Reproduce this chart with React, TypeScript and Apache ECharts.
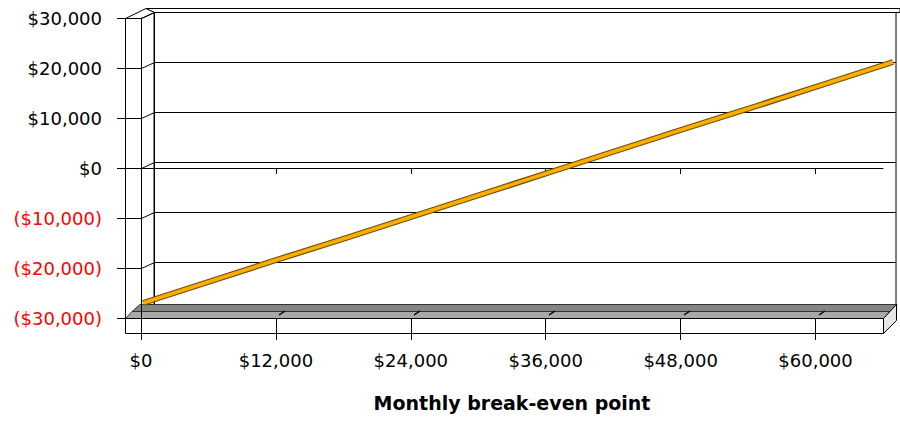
import React, { useEffect, useRef } from "react";
import * as echarts from "echarts";

// Data
const xTickValues = [0, 12000, 24000, 36000, 48000, 60000];
const yTickValues = [-30000, -20000, -10000, 0, 10000, 20000, 30000];
const salesLevels = [0, 6000, 12000, 18000, 24000, 30000, 36000, 42000, 48000, 54000, 60000, 66000];
const profitValues = [-27600, -23200, -18800, -14500, -10100, -5700, -1300, 3100, 7500, 11800, 16200, 20600];
const xMin = 0;
const xMax = 66000;
const yMin = -30000;
const yMax = 30000;
const yStep = 10000;
const axisTitle = "Monthly break-even point";

const FONT = "DejaVu Sans";

const fmtMoney = (v: number) => {
  const s = "$" + Math.abs(v).toLocaleString("en-US");
  return v < 0 ? "(" + s + ")" : s;
};

export default function App() {
  const ref = useRef<HTMLDivElement>(null);

  useEffect(() => {
    if (!ref.current) return;
    const chart = echarts.init(ref.current, null, { renderer: "svg" });
    const seriesData = salesLevels.map((x, i) => [x, profitValues[i]]);

    const option: any = {
      animation: false,
      backgroundColor: "#ffffff",
      grid: [
        // front plane
        { left: 141, right: 17, top: 18, bottom: 103, show: false },
        // back wall
        {
          left: 154,
          right: 4,
          top: 12,
          bottom: 109,
          show: true,
          backgroundColor: "#ffffff",
          borderColor: "#000000",
          borderWidth: 1,
        },
        // depth at which the series ribbon is drawn
        { left: 143, right: 7, top: 15, bottom: 106, show: false },
      ],
      xAxis: [
        {
          gridIndex: 0,
          type: "value",
          min: xMin,
          max: xMax,
          position: "bottom",
          z: 4,
          axisLine: { show: true, onZero: false, lineStyle: { color: "#000", width: 1 } },
          axisTick: { show: true, length: 22, customValues: xTickValues, lineStyle: { color: "#000", width: 1 } },
          axisLabel: {
            customValues: xTickValues,
            formatter: (v: number) => fmtMoney(v),
            margin: 33,
            fontFamily: FONT,
            fontSize: 18,
            color: "#000",
          },
          splitLine: { show: false },
          name: axisTitle,
          nameLocation: "middle",
          nameGap: 75,
          nameTextStyle: { fontFamily: FONT, fontSize: 19, fontWeight: "bold", color: "#000" },
        },
        {
          gridIndex: 0,
          type: "value",
          min: xMin,
          max: xMax,
          position: "top",
          z: 4,
          axisLine: { show: true, onZero: true, onZeroAxisIndex: 0, lineStyle: { color: "#000", width: 1 } },
          axisTick: { show: true, inside: true, length: 6, customValues: xTickValues, lineStyle: { color: "#000", width: 1 } },
          axisLabel: { show: false },
          splitLine: { show: false },
        },
        { gridIndex: 1, type: "value", min: xMin, max: xMax, show: false },
        { gridIndex: 2, type: "value", min: xMin, max: xMax, show: false },
      ],
      yAxis: [
        {
          gridIndex: 0,
          type: "value",
          min: yMin,
          max: yMax,
          interval: yStep,
          position: "left",
          z: 4,
          axisLine: { show: true, onZero: false, lineStyle: { color: "#000", width: 1 } },
          axisTick: { show: true, length: 24, lineStyle: { color: "#000", width: 1 } },
          axisLabel: {
            margin: 39,
            formatter: (v: number) => fmtMoney(v),
            color: (v: any) => (Number(v) < 0 ? "#ff0000" : "#000000"),
            fontFamily: FONT,
            fontSize: 18,
          },
          splitLine: { show: false },
        },
        {
          gridIndex: 1,
          type: "value",
          min: yMin,
          max: yMax,
          interval: yStep,
          axisLine: { show: true, onZero: false, lineStyle: { color: "#000", width: 1 } },
          axisTick: { show: false },
          axisLabel: { show: false },
          splitLine: { show: true, lineStyle: { color: "#000", width: 1, type: "solid" } },
        },
        { gridIndex: 2, type: "value", min: yMin, max: yMax, interval: yStep, show: false },
      ],
      series: [
        {
          type: "line",
          xAxisIndex: 3,
          yAxisIndex: 2,
          data: seriesData,
          showSymbol: false,
          symbol: "none",
          z: 6,
          lineStyle: { color: "#6e5200", width: 6 },
          silent: true,
        },
        {
          type: "line",
          xAxisIndex: 3,
          yAxisIndex: 2,
          data: seriesData,
          showSymbol: false,
          symbol: "none",
          z: 7,
          lineStyle: { color: "#ffad00", width: 3.5 },
          silent: true,
        },
      ],
    };

    chart.setOption(option);

    const black = { stroke: "#000", lineWidth: 1 };
    const graphics: any[] = [
      {
        type: "polygon",
        z: 1,
        shape: { points: [[146, 8.5], [900, 8.5], [900, 12.5], [154, 12.5]] },
        style: { fill: "#ffffff", ...black },
      },
      {
        type: "polygon",
        z: 1,
        shape: { points: [[125.5, 18.5], [141.5, 18.5], [154.5, 12.5], [146, 8.5]] },
        style: { fill: "#ffffff", ...black },
      },
      {
        type: "rect",
        z: 1,
        shape: { x: 125.5, y: 18.5, width: 16, height: 300 },
        style: { fill: "#ffffff", ...black },
      },
      {
        type: "polygon",
        z: 2,
        shape: { points: [[132, 311.5], [890, 311.5], [897, 304.5], [140, 304.5]] },
        style: { fill: "#858585", stroke: "#333", lineWidth: 1 },
      },
      {
        type: "polygon",
        z: 2,
        shape: { points: [[125.5, 318.5], [884, 318.5], [890, 311.5], [132, 311.5]] },
        style: { fill: "#a8a8a8", stroke: "#333", lineWidth: 1 },
      },
      {
        type: "rect",
        z: 2,
        shape: { x: 125.5, y: 318.5, width: 758, height: 15 },
        style: { fill: "#ffffff", ...black },
      },
      {
        type: "polygon",
        z: 2,
        shape: { points: [[883.5, 318.5], [896.5, 304.5], [896.5, 320.5], [883.5, 333.5]] },
        style: { fill: "#e6e6e6", ...black },
      },
    ];

    yTickValues.forEach((v) => {
      if (v === yMin) return;
      const f = chart.convertToPixel({ xAxisIndex: 0, yAxisIndex: 0 }, [xMin, v]) as number[];
      const b = chart.convertToPixel({ xAxisIndex: 2, yAxisIndex: 1 }, [xMin, v]) as number[];
      graphics.push({
        type: "line",
        z: 3,
        shape: { x1: Math.round(f[0]) + 0.5, y1: Math.round(f[1]) + 0.5, x2: Math.round(b[0]) + 0.5, y2: Math.round(b[1]) + 0.5 },
        style: { ...black },
      });
    });

    xTickValues.forEach((v) => {
      if (v === xMin) return;
      const f = chart.convertToPixel({ xAxisIndex: 0, yAxisIndex: 0 }, [v, yMin]) as number[];
      const x = Math.round(f[0]);
      graphics.push({
        type: "line",
        z: 3,
        shape: { x1: x + 3, y1: 315, x2: x + 9, y2: 311 },
        style: { stroke: "#000", lineWidth: 1.5 },
      });
    });

    chart.setOption({ graphic: graphics });

    return () => chart.dispose();
  }, []);

  return (
    <div
      ref={ref}
      style={{ position: "absolute", left: 0, top: 0, width: 900, height: 421 }}
    />
  );
}
